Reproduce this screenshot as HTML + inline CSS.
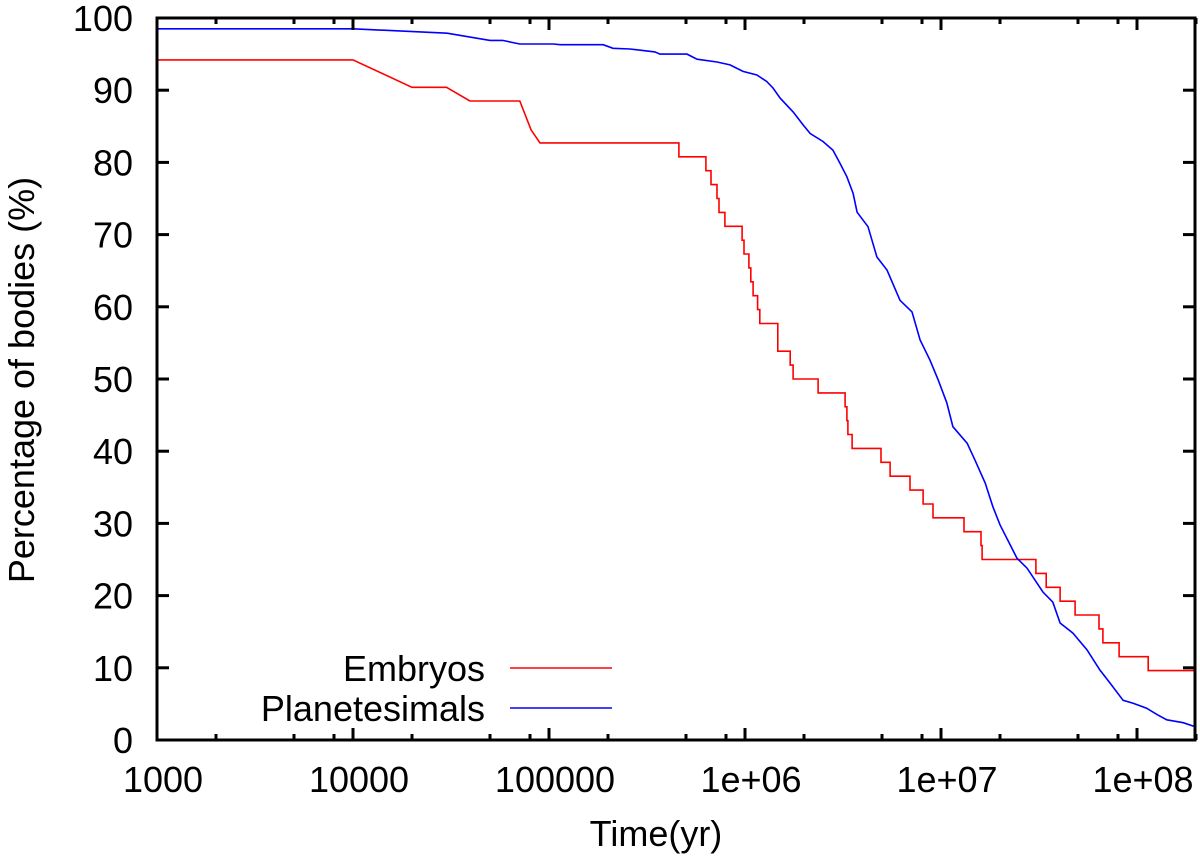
<!DOCTYPE html>
<html><head><meta charset="utf-8"><style>
html,body{margin:0;padding:0;background:#fff;}
svg{display:block;font-family:"Liberation Sans",Arial,sans-serif;}
</style></head><body>
<svg id="chart" width="1200" height="858" viewBox="0 0 1200 858" xmlns="http://www.w3.org/2000/svg">
<g id="grid"></g>
<g id="series"></g>
<g id="axes"></g>
</svg>
<script>
// ---- data ----
const xTickValues = [1e3, 1e4, 1e5, 1e6, 1e7, 1e8];
const xTickLabels = ["1000", "10000", "100000", "1e+06", "1e+07", "1e+08"];
const yTickValues = [0, 10, 20, 30, 40, 50, 60, 70, 80, 90, 100];
const seriesNames = ["Embryos", "Planetesimals"];

// Embryos: early (connected points) then step events (time, remaining count of 52)
const embryoEarlyT = [1e3, 1e4, 2e4, 3e4, 3.95e4, 7.1e4, 8.1e4, 9e4];
const embryoEarlyP = [94.2, 94.2, 90.4, 90.4, 88.5, 88.5, 84.5, 82.7];
const embryoStepT = [4.6e5, 6.32e5, 6.71e5, 7.2e5, 7.37e5, 7.9e5, 9.66e5, 9.88e5, 1.047e6, 1.07e6, 1.1e6, 1.16e6, 1.19e6, 1.47e6, 1.7e6, 1.76e6, 2.36e6, 3.24e6, 3.31e6, 3.35e6, 3.52e6, 4.94e6, 5.5e6, 6.95e6, 8.1e6, 9.1e6, 1.31e7, 1.6e7, 1.62e7, 3.05e7, 3.44e7, 4.05e7, 4.83e7, 6.4e7, 6.7e7, 8.1e7, 1.14e8];
const embryoStepN = [42, 41, 40, 39, 38, 37, 36, 35, 34, 33, 32, 31, 30, 28, 27, 26, 25, 24, 23, 22, 21, 20, 19, 18, 17, 16, 15, 14, 13, 12, 11, 10, 9, 8, 7, 6, 5];
const embryoTotal = 52;

const planT = [1e3, 1e4, 3.02e4, 5.0e4, 5.8e4, 7.1e4, 1.05e5, 1.14e5, 1.89e5, 2.12e5, 2.59e5, 3.47e5, 3.68e5, 5.06e5, 5.69e5, 7.2e5, 8.38e5, 9.77e5, 1.15e6, 1.29e6, 1.39e6, 1.51e6, 1.76e6, 1.98e6, 2.15e6, 2.5e6, 2.81e6, 3.05e6, 3.31e6, 3.56e6, 3.73e6, 4.24e6, 4.71e6, 5.3e6, 6.18e6, 7.11e6, 7.82e6, 8.79e6, 9.66e6, 1.07e7, 1.15e7, 1.36e7, 1.49e7, 1.68e7, 1.84e7, 2.0e7, 2.44e7, 2.75e7, 3.31e7, 3.72e7, 4.05e7, 4.71e7, 5.56e7, 6.47e7, 7.28e7, 8.49e7, 9.55e7, 1.12e8, 1.27e8, 1.42e8, 1.72e8, 2.0e8];
const planP = [98.5, 98.5, 97.9, 96.9, 96.9, 96.4, 96.4, 96.3, 96.3, 95.8, 95.7, 95.3, 95.0, 95.0, 94.3, 93.9, 93.5, 92.6, 92.1, 91.2, 90.3, 88.9, 87.0, 85.2, 84.0, 82.9, 81.7, 79.9, 78.0, 75.7, 73.1, 71.1, 66.9, 65.1, 60.9, 59.3, 55.4, 52.6, 49.9, 46.7, 43.4, 41.1, 38.8, 35.6, 32.3, 29.8, 25.2, 23.8, 20.5, 19.1, 16.2, 14.8, 12.5, 9.7, 7.9, 5.5, 5.1, 4.4, 3.5, 2.8, 2.4, 1.8];

// ---- layout ----
const L = 157, R = 1195, T = 18, B = 740;
const xMin = 1e3, xMax = 2e8, yMin = 0, yMax = 100;
const decade = 196;
function xs(t){ return L + (Math.log10(t) - Math.log10(xMin)) * decade; }
function ys(p){ return B - (p - yMin) / (yMax - yMin) * (B - T); }

const NS = "http://www.w3.org/2000/svg";
function mk(tag, attrs, parent){
  const e = document.createElementNS(NS, tag);
  for (const k in attrs) e.setAttribute(k, attrs[k]);
  parent.appendChild(e);
  return e;
}
const axes = document.getElementById('axes');
const series = document.getElementById('series');

// embryo path
let ePts = [];
for (let i = 0; i < embryoEarlyT.length; i++) ePts.push([xs(embryoEarlyT[i]), ys(embryoEarlyP[i])]);
let cur = embryoEarlyP[embryoEarlyP.length - 1];
for (let i = 0; i < embryoStepT.length; i++){
  const x = xs(embryoStepT[i]);
  ePts.push([x, ys(cur)]);
  cur = embryoStepN[i] / embryoTotal * 100;
  ePts.push([x, ys(cur)]);
}
ePts.push([xs(xMax), ys(cur)]);
const ep = mk('polyline', {points: ePts.map(p => p[0].toFixed(1) + ',' + p[1].toFixed(1)).join(' '), fill: 'none', stroke: '#ff0000', 'stroke-width': 1.6}, series);



const pPts = planT.map((t, i) => xs(t).toFixed(1) + ',' + ys(planP[i]).toFixed(1)).join(' ');
const pp = mk('polyline', {points: pPts, fill: 'none', stroke: '#0000ff', 'stroke-width': 1.6}, series);



// frame
const fr = mk('rect', {x: L, y: T, width: R - L, height: B - T, fill: 'none', stroke: '#000', 'stroke-width': 3}, axes);



// y ticks
yTickValues.forEach(v => {
  const y = ys(v);
  const t1 = mk('line', {x1: L, x2: L + 12, y1: y, y2: y, stroke: '#000', 'stroke-width': 3}, axes);
  
  
  const t2 = mk('line', {x1: R, x2: R - 12, y1: y, y2: y, stroke: '#000', 'stroke-width': 3}, axes);
  
  
  const tx = mk('text', {x: 133, y: y + 13, 'text-anchor': 'end', 'font-size': 36, fill: '#000'}, axes);
  tx.textContent = String(v);
  
  
});

// x ticks (major + minor at 2,5,8)
xTickValues.forEach((v, i) => {
  const x = xs(v);
  [[B, B - 12], [T, T + 12]].forEach(([a, b]) => {
    const tl = mk('line', {x1: x, x2: x, y1: a, y2: b, stroke: '#000', 'stroke-width': 3}, axes);
    
    
  });
  const tx = mk('text', {x: x + 6, y: 792, 'text-anchor': 'middle', 'font-size': 36, fill: '#000'}, axes);
  tx.textContent = xTickLabels[i];
  
  
  [2, 5, 8].forEach(m => {
    const mv = v * m;
    if (mv > xMax) return;
    const mx = xs(mv);
    [[B, B - 6], [T, T + 6]].forEach(([a, b]) => {
      const ml = mk('line', {x1: mx, x2: mx, y1: a, y2: b, stroke: '#000', 'stroke-width': 3}, axes);
      
      
    });
  });
});

// axis titles
const xt = mk('text', {x: 656, y: 846, 'text-anchor': 'middle', 'font-size': 36, fill: '#000'}, axes);
xt.textContent = 'Time(yr)';


const yt = mk('text', {x: 0, y: 0, 'text-anchor': 'middle', 'font-size': 36, fill: '#000', transform: 'translate(34,380) rotate(-90)'}, axes);
yt.textContent = 'Percentage of bodies (%)';



// legend
const legColors = ['#ff0000', '#0000ff'];
seriesNames.forEach((n, i) => {
  const ly = 668 + i * 40;
  const lt = mk('text', {x: 485, y: ly + 13, 'text-anchor': 'end', 'font-size': 36, fill: '#000'}, axes);
  lt.textContent = n;
  
  
  const ll = mk('line', {x1: 510, x2: 612, y1: ly, y2: ly, stroke: legColors[i], 'stroke-width': 1.6}, axes);
  
  
});
</script>
</body></html>
